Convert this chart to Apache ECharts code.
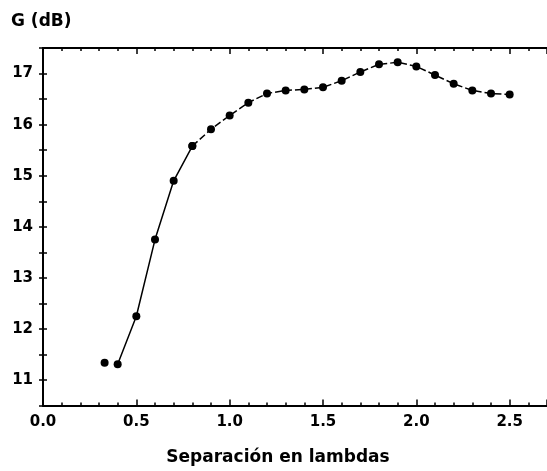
<!DOCTYPE html>
<html><head><meta charset="utf-8">
<script src="https://cdn.jsdelivr.net/npm/echarts@6/dist/echarts.min.js"></script>
<style>html,body{margin:0;padding:0;background:#fff}#c{width:547px;height:471px}</style>
</head><body><div id="c"></div>
<script>
const sepLambdas = [0.33, 0.4, 0.5, 0.6, 0.7, 0.8, 0.9, 1.0, 1.1, 1.2, 1.3, 1.4, 1.5, 1.6, 1.7, 1.8, 1.9, 2.0, 2.1, 2.2, 2.3, 2.4, 2.5];
const gainDb = [11.34, 11.31, 12.25, 13.75, 14.9, 15.58, 15.91, 16.18, 16.43, 16.61, 16.67, 16.69, 16.73, 16.86, 17.03, 17.18, 17.22, 17.14, 16.97, 16.8, 16.67, 16.61, 16.59];
const xTickLabels = ['0.0', '0.5', '1.0', '1.5', '2.0', '2.5'];
const yTickLabels = ['11', '12', '13', '14', '15', '16', '17'];
const yTitle = 'G (dB)';
const xTitle = 'Separación en lambdas';

const pts = sepLambdas.map((x, i) => [x, gainDb[i]]);
const solidPart = pts.slice(1, 6);
const dashedPart = pts.slice(5);
const loosePart = pts.slice(0, 1);

const FONT = 'DejaVu Sans';
const black = '#000';
const chart = echarts.init(document.getElementById('c'), null, {renderer: 'canvas'});
const axisLine = {show: true, lineStyle: {color: black, width: 2}};
chart.setOption({
  animation: false,
  backgroundColor: '#fff',
  grid: {left: 43, top: 48, width: 506, height: 357.6},
  title: [
    {text: yTitle, left: 6, top: 8, textStyle: {fontFamily: FONT, fontWeight: 'bold', fontSize: 17, color: black}},
    {text: xTitle, left: 273, top: 444, textAlign: 'center', textStyle: {fontFamily: FONT, fontWeight: 'bold', fontSize: 17, color: black}}
  ],
  xAxis: [
    {type: 'value', min: 0, max: 2.7, interval: 0.5, position: 'bottom',
     axisLine: axisLine,
     axisTick: {show: true, inside: true, length: 6, lineStyle: {color: black, width: 1.5}},
     minorTick: {show: true, splitNumber: 5, length: 3, lineStyle: {color: black, width: 1.5}},
     splitLine: {show: false}, minorSplitLine: {show: false},
     axisLabel: {margin: 9, showMaxLabel: false, fontFamily: FONT, fontWeight: 'bold', fontSize: 15, color: black,
       formatter: v => { const i = Math.round(v / 0.5); return (Math.abs(v - i * 0.5) < 1e-6 && xTickLabels[i]) ? xTickLabels[i] : ''; }}},
    {type: 'value', min: 0, max: 2.7, interval: 0.5, position: 'top',
     axisLine: axisLine,
     axisTick: {show: true, inside: true, length: 6, lineStyle: {color: black, width: 1.5}},
     minorTick: {show: true, splitNumber: 5, length: 3, lineStyle: {color: black, width: 1.5}},
     splitLine: {show: false}, axisLabel: {show: false}}
  ],
  yAxis: [
    {type: 'value', min: 10.5, max: 17.5, interval: 0.5, position: 'left',
     axisLine: axisLine,
     axisTick: {show: true, inside: true, length: 4, lineStyle: {color: black, width: 1.5}},
     splitLine: {show: false},
     axisLabel: {margin: 10, showMinLabel: false, showMaxLabel: false, fontFamily: FONT, fontWeight: 'bold', fontSize: 15, color: black,
       formatter: v => { const s = String(Math.round(v)); return (Math.abs(v - Math.round(v)) < 1e-6 && yTickLabels.includes(s)) ? s : ''; }}},
    {type: 'value', min: 10.5, max: 17.5, interval: 0.5, position: 'right',
     axisLine: axisLine,
     axisTick: {show: true, inside: true, length: 4, lineStyle: {color: black, width: 1.5}},
     splitLine: {show: false}, axisLabel: {show: false}}
  ],
  series: [
    {type: 'line', data: solidPart, symbol: 'circle', symbolSize: 8, lineStyle: {color: black, width: 1.5}, itemStyle: {color: black, opacity: 1}},
    {type: 'line', data: dashedPart, symbol: 'circle', symbolSize: 8, lineStyle: {color: black, width: 1.5, type: [7, 3]}, itemStyle: {color: black, opacity: 1}},
    {type: 'scatter', data: loosePart, symbol: 'circle', symbolSize: 8, itemStyle: {color: black, opacity: 1}}
  ]
});
</script></body></html>
